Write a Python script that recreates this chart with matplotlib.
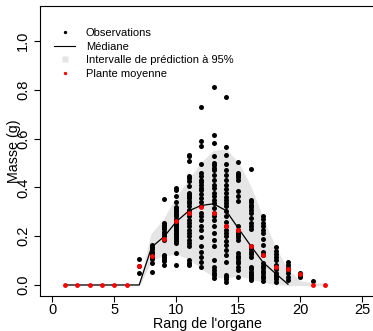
import matplotlib
matplotlib.use('Agg')
import matplotlib.pyplot as plt
from matplotlib.lines import Line2D

plt.rcParams['font.family'] = ['Liberation Sans', 'DejaVu Sans']

# observations (mass in g) per organ rank
obs_by_rank = {
    7: [0.105, 0.078, 0.05],
    8: [0.163, 0.155, 0.147, 0.137, 0.127, 0.116, 0.105, 0.092, 0.053],
    9: [0.353, 0.253, 0.245, 0.237, 0.229, 0.219, 0.21, 0.199, 0.185, 0.123, 0.116, 0.108, 0.1, 0.082],
    10: [0.397, 0.389, 0.366, 0.341, 0.319, 0.311, 0.303, 0.295, 0.288, 0.281, 0.27, 0.262, 0.253,
         0.245, 0.237, 0.229, 0.221, 0.212, 0.204, 0.196, 0.188, 0.18, 0.171, 0.13, 0.082],
    11: [0.534, 0.527, 0.507, 0.445, 0.437, 0.425, 0.404, 0.379, 0.371, 0.363, 0.355, 0.345, 0.336,
         0.322, 0.308, 0.295, 0.281, 0.267, 0.253, 0.24, 0.226, 0.212, 0.199, 0.185, 0.171, 0.16,
         0.103, 0.089, 0.082],
    12: [0.729, 0.589, 0.568, 0.497, 0.459, 0.445, 0.432, 0.421, 0.41, 0.397, 0.388, 0.374, 0.356,
         0.34, 0.322, 0.295, 0.281, 0.267, 0.242, 0.226, 0.196, 0.158, 0.137, 0.116, 0.096, 0.075],
    13: [0.812, 0.616, 0.582, 0.527, 0.5, 0.49, 0.479, 0.47, 0.452, 0.432, 0.411, 0.397, 0.379,
         0.363, 0.349, 0.336, 0.315, 0.295, 0.281, 0.267, 0.24, 0.212, 0.185, 0.158, 0.103, 0.075,
         0.062, 0.051, 0.041, 0.03],
    14: [0.77, 0.566, 0.534, 0.497, 0.473, 0.452, 0.432, 0.411, 0.393, 0.377, 0.36, 0.349, 0.336,
         0.322, 0.305, 0.281, 0.26, 0.24, 0.226, 0.212, 0.199, 0.182, 0.164, 0.144, 0.123, 0.096,
         0.041, 0.032, 0.023, 0.014],
    15: [0.504, 0.459, 0.452, 0.441, 0.432, 0.384, 0.363, 0.345, 0.24, 0.226, 0.215, 0.205, 0.196,
         0.185, 0.13, 0.119, 0.11, 0.1, 0.089, 0.075, 0.062, 0.034],
    16: [0.475, 0.349, 0.341, 0.329, 0.319, 0.308, 0.295, 0.274, 0.256, 0.242, 0.229, 0.158, 0.147,
         0.137, 0.127, 0.116, 0.075, 0.064, 0.055, 0.045, 0.037, 0.027, 0.02],
    17: [0.281, 0.27, 0.256, 0.24, 0.226, 0.212, 0.188, 0.164, 0.137, 0.123, 0.089, 0.078, 0.068,
         0.059, 0.048, 0.037, 0.027, 0.018],
    18: [0.155, 0.141, 0.127, 0.116, 0.103, 0.082, 0.064, 0.051, 0.041, 0.032, 0.023, 0.014],
    19: [0.093, 0.082, 0.071, 0.062, 0.051, 0.034, 0.02],
    20: [0.051, 0.041, 0.034],
    21: [0.018],
}

ranks = list(range(1, 23))
mean_plant = [0, 0, 0, 0, 0, 0, 0.077, 0.12, 0.188, 0.264, 0.295, 0.32, 0.295, 0.242, 0.226,
              0.158, 0.123, 0.075, 0.066, 0.045, 0, 0]
band_upper = [0, 0, 0, 0, 0, 0, 0, 0.21, 0.27, 0.36, 0.43, 0.50, 0.55, 0.555, 0.50, 0.40, 0.27,
              0.15, 0.06, 0.015, 0.006, 0.006]
band_lower = [0, 0, 0, 0, 0, 0, 0, 0.105, 0.122, 0.128, 0.11, 0.07, 0.035, 0.03, 0.04, 0.027,
              0.014, 0.004, 0, 0, 0, 0]
median_ranks = list(range(1, 20))
median = [0, 0, 0, 0, 0, 0, 0, 0.155, 0.198, 0.26, 0.304, 0.326, 0.333, 0.305, 0.232, 0.16,
          0.092, 0.047, 0.003]

fig = plt.figure(figsize=(3.73, 3.31), dpi=100)
ax = fig.add_axes([40 / 373, 35.3 / 331, 334.8 / 373, 289.7 / 331])

ax.fill_between(ranks, band_lower, band_upper, color='#E5E5E5', lw=0.8, edgecolor='#E5E5E5', zorder=1)

obs_x = [r for r, vals in obs_by_rank.items() for _ in vals]
obs_y = [v for vals in obs_by_rank.values() for v in vals]
ax.plot(obs_x, obs_y, 'o', color='black', ms=3.6, mec='none', zorder=2)
ax.plot(median_ranks, median, color='black', lw=0.9, zorder=3)
ax.plot(ranks, mean_plant, 'o', color='red', ms=3.5, mec='none', zorder=4)

ax.set_xlim(-1, 26)
ax.set_ylim(-0.044, 1.144)
ax.set_xticks([0, 5, 10, 15, 20, 25])
ax.set_yticks([0, 0.2, 0.4, 0.6, 0.8, 1.0])
ax.set_yticklabels(['0.0', '0.2', '0.4', '0.6', '0.8', '1.0'], rotation=90, va='center')
ax.tick_params(axis='both', labelsize=10.5, length=4, width=0.8, color='black')
ax.tick_params(axis='x', pad=1.5)
ax.tick_params(axis='y', pad=3)
for sp in ax.spines.values():
    sp.set_linewidth(0.8)

ax.set_xlabel("Rang de l'organe", fontsize=10.3, labelpad=-0.5)
ax.set_ylabel('Masse (g)', fontsize=10.3)
ax.yaxis.set_label_coords(-0.057, 0.5)

handles = [
    Line2D([], [], marker='o', ls='none', color='black', ms=2.4, mec='none'),
    Line2D([], [], color='black', lw=0.8),
    Line2D([], [], marker='s', ls='none', color='#E5E5E5', ms=5, mec='none'),
    Line2D([], [], marker='o', ls='none', color='red', ms=2.4, mec='none'),
]
labels = ['Observations', 'Médiane', 'Intervalle de prédiction à 95%', 'Plante moyenne']
ax.legend(handles, labels, loc='upper left', bbox_to_anchor=(0.042, 0.924), frameon=False,
          fontsize=8, handlelength=1.9, handletextpad=0.95, labelspacing=0.32,
          borderpad=0, borderaxespad=0)

fig.savefig('out.png', dpi=100)
